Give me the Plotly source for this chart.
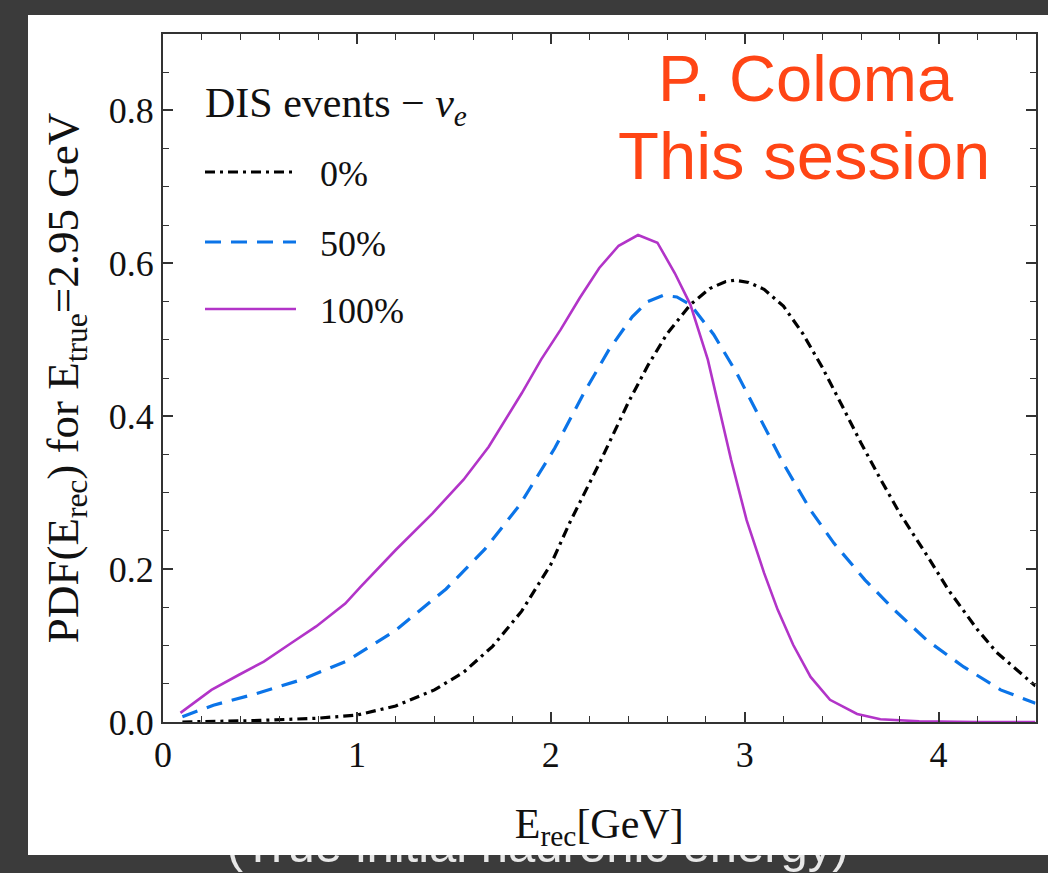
import plotly.graph_objects as go

# ---------------- data ----------------
e_0 = [0.1, 0.5, 0.8, 1.0, 1.2, 1.4, 1.55, 1.7, 1.85, 2.0, 2.1, 2.25, 2.4, 2.5, 2.6, 2.72,
       2.82, 2.9, 2.95, 3.02, 3.1, 3.2, 3.3, 3.4, 3.5, 3.6, 3.7, 3.8, 3.95, 4.05, 4.2, 4.3, 4.5]
pdf_0 = [0.0, 0.002, 0.005, 0.009, 0.021, 0.042, 0.065, 0.099, 0.145, 0.206, 0.262, 0.338,
         0.418, 0.466, 0.508, 0.546, 0.567, 0.576, 0.578, 0.575, 0.566, 0.544, 0.508, 0.464,
         0.415, 0.365, 0.318, 0.273, 0.214, 0.173, 0.121, 0.091, 0.047]

e_50 = [0.1, 0.26, 0.48, 0.71, 0.95, 1.2, 1.46, 1.66, 1.84, 2.02, 2.17, 2.3, 2.42, 2.5, 2.58,
        2.65, 2.72, 2.84, 2.96, 3.08, 3.2, 3.34, 3.46, 3.62, 3.77, 3.94, 4.13, 4.32, 4.5]
pdf_50 = [0.007, 0.022, 0.037, 0.055, 0.080, 0.120, 0.174, 0.226, 0.284, 0.358, 0.430, 0.487,
          0.530, 0.550, 0.558, 0.556, 0.546, 0.507, 0.456, 0.398, 0.338, 0.277, 0.234, 0.186,
          0.147, 0.107, 0.072, 0.042, 0.0245]

e_100 = [0.09, 0.25, 0.39, 0.52, 0.66, 0.79, 0.94, 1.02, 1.2, 1.39, 1.55, 1.68, 1.85, 1.95,
         2.05, 2.15, 2.25, 2.35, 2.45, 2.55, 2.64, 2.72, 2.81, 2.93, 3.01, 3.1, 3.17, 3.25,
         3.34, 3.44, 3.58, 3.7, 3.9, 4.2, 4.5]
pdf_100 = [0.012, 0.042, 0.0615, 0.079, 0.103, 0.125, 0.155, 0.177, 0.225, 0.273, 0.317, 0.36,
           0.43, 0.474, 0.513, 0.555, 0.594, 0.623, 0.637, 0.627, 0.587, 0.546, 0.474, 0.343,
           0.264, 0.195, 0.147, 0.101, 0.059, 0.029, 0.0105, 0.0035, 0.001, 0.0, 0.0]

series_names = ["0%", "50%", "100%"]
x_tickvals = [0, 1, 2, 3, 4]
y_tickvals = [0.0, 0.2, 0.4, 0.6, 0.8]

# ---------------- styling ----------------
W, H = 1048, 873
SERIF = "Liberation Serif, Times New Roman, serif"
SANS = "Liberation Sans, Arial, Helvetica, sans-serif"
C_BLACK = "#000000"
C_BLUE = "#0B74E8"
C_PURPLE = "#B234C8"
D_BLACK = "10px,5px,3px,5px"
D_BLUE = "16px,10px"

def px_x(p):
    return p / W

def px_y(p):
    return (H - p) / H

fig = go.Figure()

fig.add_trace(go.Scatter(x=e_0, y=pdf_0, mode="lines", name=series_names[0],
                         line=dict(color=C_BLACK, width=3.2, dash=D_BLACK)))
fig.add_trace(go.Scatter(x=e_50, y=pdf_50, mode="lines", name=series_names[1],
                         line=dict(color=C_BLUE, width=3.2, dash=D_BLUE)))
fig.add_trace(go.Scatter(x=e_100, y=pdf_100, mode="lines", name=series_names[2],
                         line=dict(color=C_PURPLE, width=2.6)))

# slide caption partially hidden under the white panel (clipped in its own strip)
fig.add_trace(go.Scatter(x=[0.513], y=[1.3], mode="text", xaxis="x2", yaxis="y2",
                         text=["(True initial hadronic energy)"], cliponaxis=True,
                         textposition="middle center", hoverinfo="skip", showlegend=False,
                         textfont=dict(family=SANS, size=49, color="#e8e8e8")))

axis_common = dict(showline=True, linecolor="#333333", linewidth=2, mirror="allticks",
                   ticks="inside", ticklen=10, tickwidth=1.5, tickcolor="#333333",
                   showgrid=False, zeroline=False, automargin=False,
                   tickfont=dict(family=SERIF, size=36, color="#111111"))

fig.update_layout(
    width=W, height=H, autosize=False,
    margin=dict(l=0, r=0, t=0, b=0, pad=0),
    paper_bgcolor="#3b3b3b", plot_bgcolor="rgba(0,0,0,0)",
    showlegend=False,
    xaxis=dict(domain=[px_x(163), px_x(1035.5)], range=[0, 4.5], tickvals=x_tickvals,
               ticktext=[str(v) for v in x_tickvals],
               minor=dict(dtick=0.2, ticks="inside", ticklen=6, tickwidth=1.2, tickcolor="#333333"),
               title=dict(text="E<sub>rec</sub>[GeV]", font=dict(family=SERIF, size=42, color="#111111"),
                          standoff=34),
               anchor="y", **axis_common),
    yaxis=dict(domain=[px_y(722), px_y(34)], range=[0, 0.9], tickvals=y_tickvals,
               tickformat=".1f",
               minor=dict(dtick=0.05, ticks="inside", ticklen=6, tickwidth=1.2, tickcolor="#333333"),
               title=dict(text="PDF(E<sub>rec</sub>) for E<sub>true</sub>=2.95 GeV",
                          font=dict(family=SERIF, size=45, color="#111111"), standoff=16),
               anchor="x", **axis_common),
    xaxis2=dict(domain=[0, 1], range=[0, 1], visible=False, anchor="y2", fixedrange=True),
    yaxis2=dict(domain=[0, px_y(855)], range=[0, 1], visible=False, anchor="x2", fixedrange=True),
)

# white slide panel
fig.add_shape(type="rect", xref="paper", yref="paper", layer="below",
              x0=px_x(28), x1=1.0, y0=px_y(855), y1=px_y(15),
              fillcolor="white", line=dict(width=0))

# legend drawn by hand (long line samples as in the reference)
fig.add_annotation(xref="paper", yref="paper", x=px_x(203), y=px_y(106),
                   xanchor="left", yanchor="middle", showarrow=False,
                   text="DIS events \u2212 <i>\u03bd</i><sub><i>e</i></sub>",
                   font=dict(family=SERIF, size=42, color="#111111"))
leg_rows = [(172, C_BLACK, D_BLACK, 3.2), (242, C_BLUE, D_BLUE, 3.2), (309, C_PURPLE, "solid", 2.6)]
for (yy, col, dsh, wd), name in zip(leg_rows, series_names):
    fig.add_shape(type="line", xref="paper", yref="paper",
                  x0=px_x(205), x1=px_x(296), y0=px_y(yy), y1=px_y(yy),
                  line=dict(color=col, width=wd, dash=dsh))
    fig.add_annotation(xref="paper", yref="paper", x=px_x(318), y=px_y(yy + 2),
                       xanchor="left", yanchor="middle", showarrow=False, text=name,
                       font=dict(family=SERIF, size=36, color="#111111"))

# speaker note in red
fig.add_annotation(xref="paper", yref="paper", x=px_x(806), y=px_y(78),
                   xanchor="center", yanchor="middle", showarrow=False, text="P. Coloma",
                   font=dict(family=SANS, size=65, color="#FF4515"))
fig.add_annotation(xref="paper", yref="paper", x=px_x(804), y=px_y(155),
                   xanchor="center", yanchor="middle", showarrow=False, text="This session",
                   font=dict(family=SANS, size=67, color="#FF4515"))

fig.write_html("out.html")
